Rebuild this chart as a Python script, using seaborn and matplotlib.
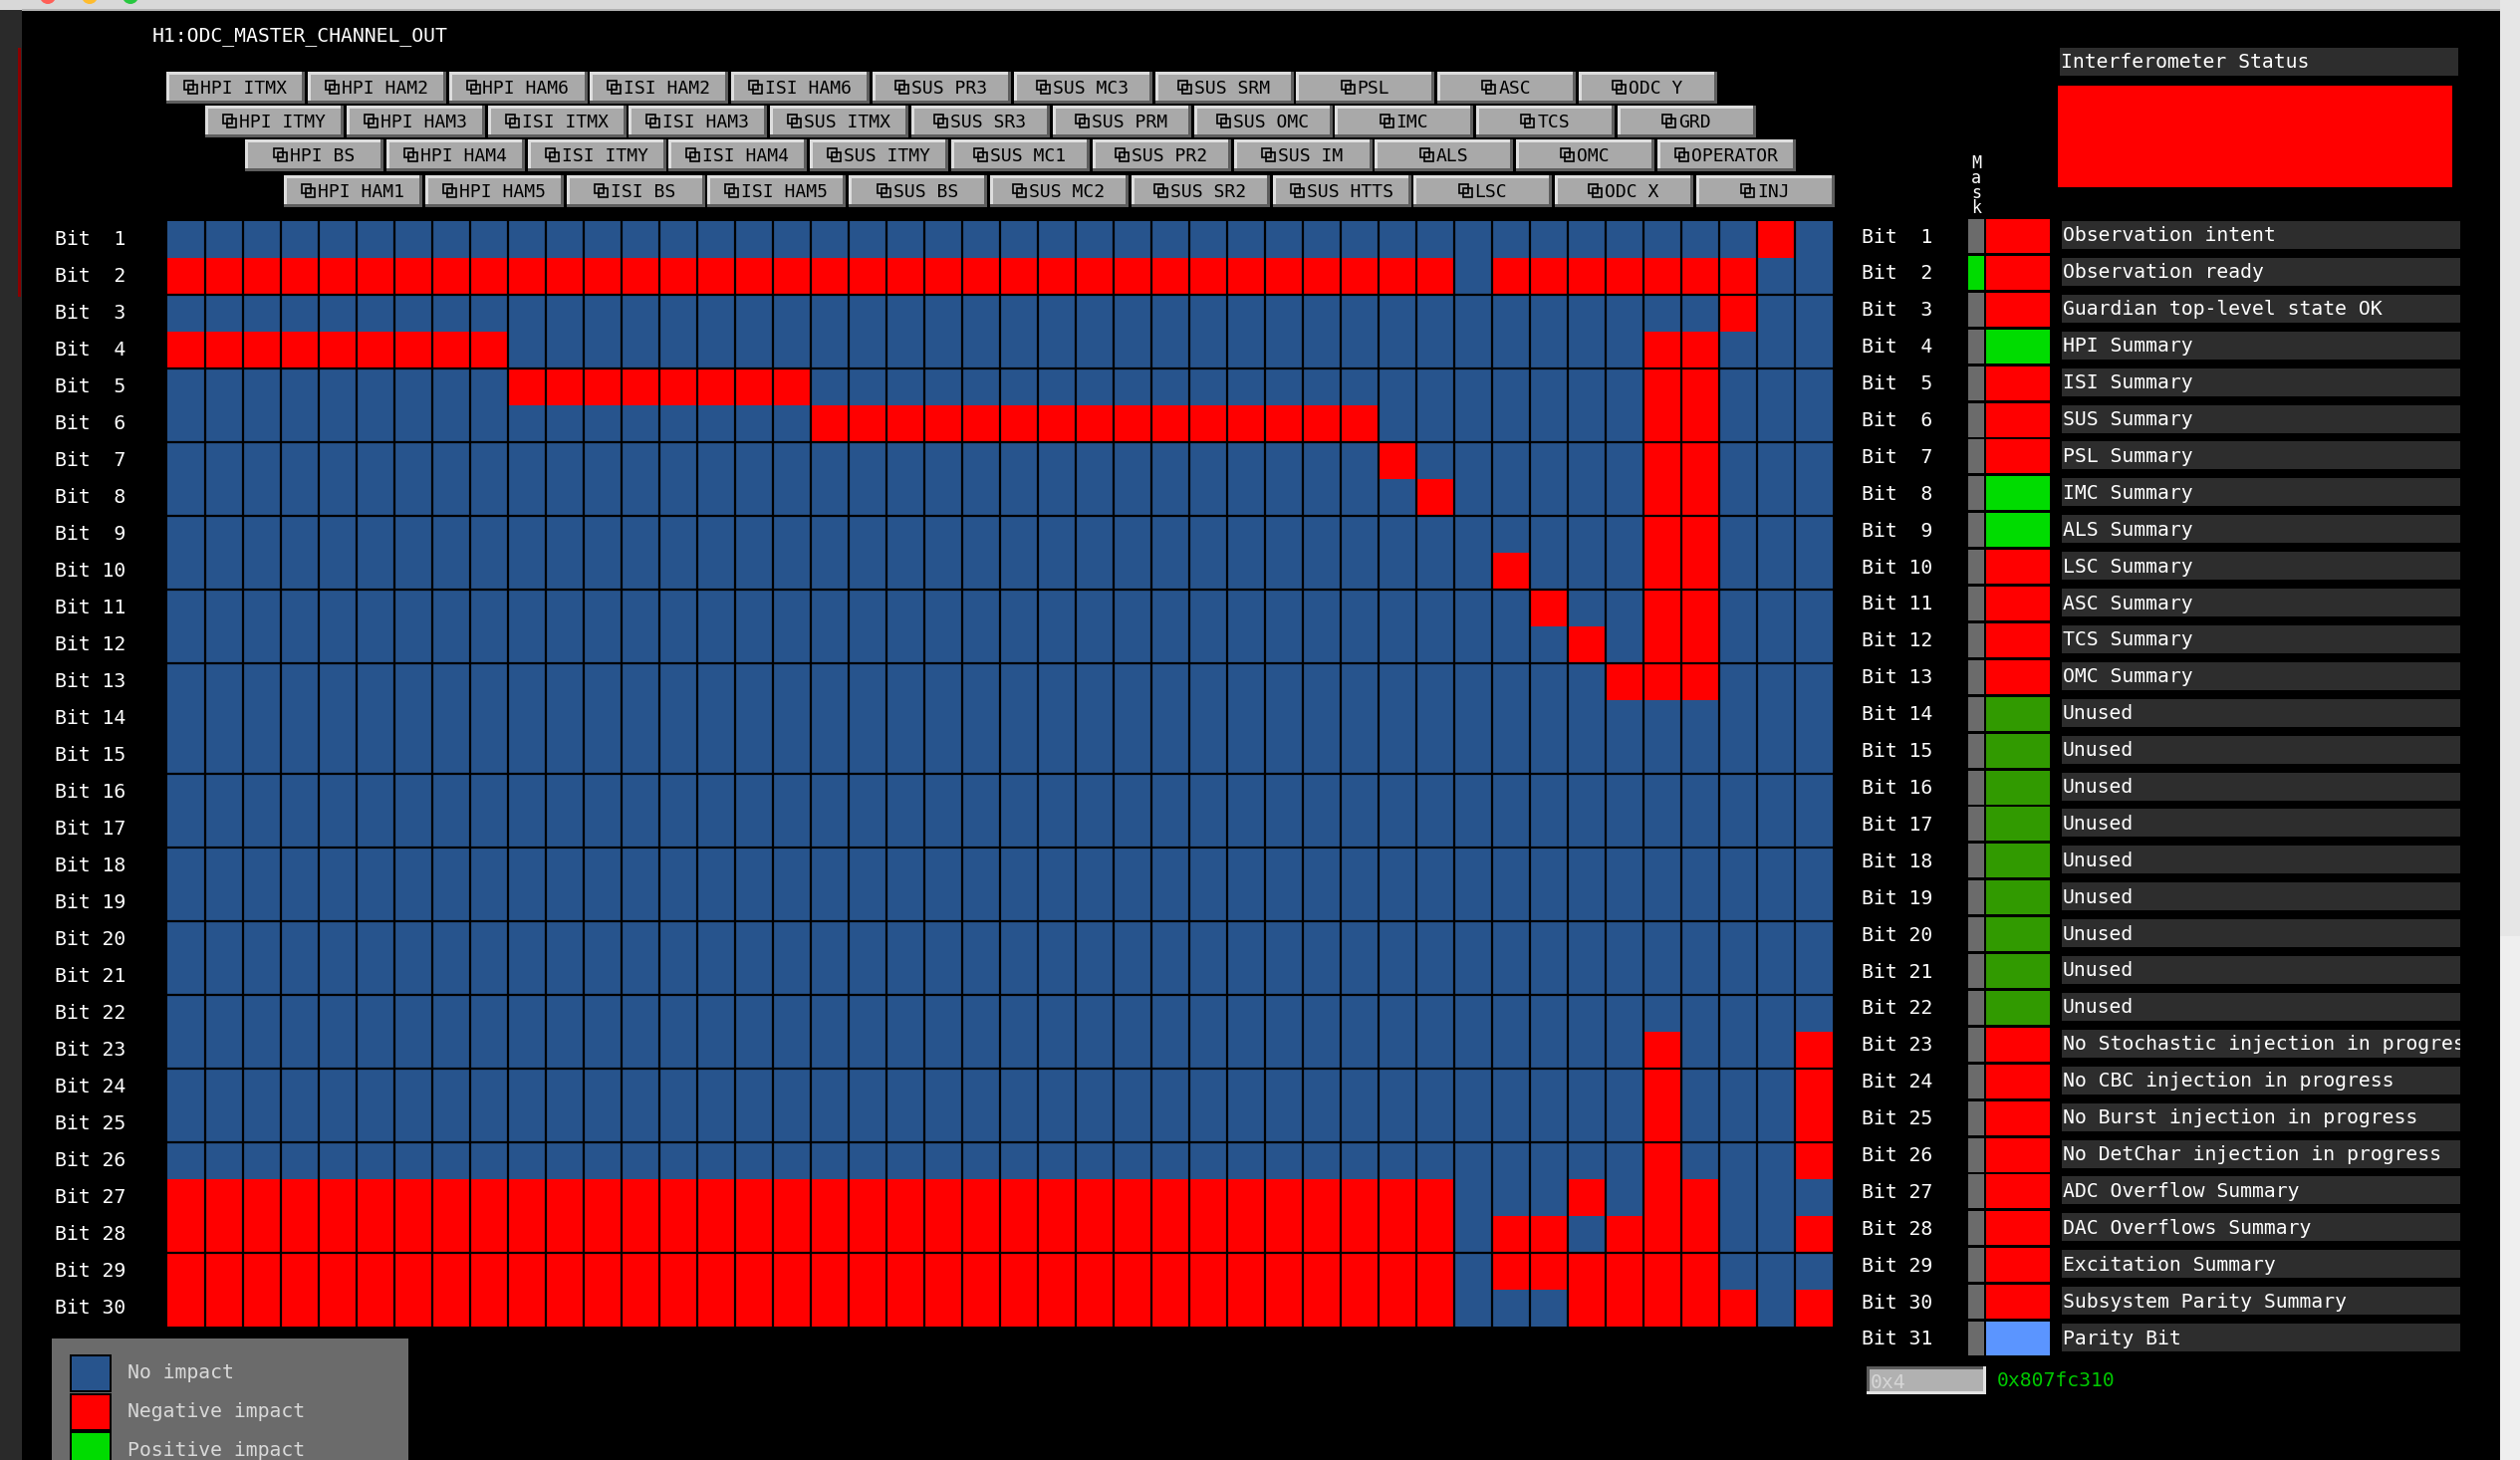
import matplotlib
matplotlib.use("Agg")
import numpy as np
import pandas as pd
import seaborn as sns
import matplotlib.pyplot as plt
from matplotlib.colors import ListedColormap
from matplotlib.patches import Rectangle, Circle
from matplotlib.transforms import Bbox

sns.set_theme(style="white")
plt.rcParams["font.family"] = ["DejaVu Sans Mono", "DejaVu Sans"]

# subsystems in grid column order (buttons are staggered over 4 rows)
subsystems = [
    "HPI ITMX", "HPI ITMY", "HPI BS", "HPI HAM1", "HPI HAM2", "HPI HAM3",
    "HPI HAM4", "HPI HAM5", "HPI HAM6",
    "ISI ITMX", "ISI ITMY", "ISI BS", "ISI HAM2", "ISI HAM3", "ISI HAM4",
    "ISI HAM5", "ISI HAM6",
    "SUS ITMX", "SUS ITMY", "SUS BS", "SUS PR3", "SUS SR3", "SUS MC1",
    "SUS MC2", "SUS MC3", "SUS PRM", "SUS PR2", "SUS SR2", "SUS SRM",
    "SUS OMC", "SUS IM", "SUS HTTS",
    "PSL", "IMC", "ALS", "LSC", "ASC", "TCS", "OMC", "ODC X", "ODC Y",
    "GRD", "OPERATOR", "INJ",
]

# 1 = negative impact, 0 = no impact; groups: HPI | ISI | SUS | others
impact_rows = [
    "000000000 00000000 000000000000000 000000000010",  # bit 1
    "111111111 11111111 111111111111111 110111111100",  # bit 2
    "000000000 00000000 000000000000000 000000000100",  # bit 3
    "111111111 00000000 000000000000000 000000011000",  # bit 4
    "000000000 11111111 000000000000000 000000011000",  # bit 5
    "000000000 00000000 111111111111111 000000011000",  # bit 6
    "000000000 00000000 000000000000000 100000011000",  # bit 7
    "000000000 00000000 000000000000000 010000011000",  # bit 8
    "000000000 00000000 000000000000000 000000011000",  # bit 9
    "000000000 00000000 000000000000000 000100011000",  # bit 10
    "000000000 00000000 000000000000000 000010011000",  # bit 11
    "000000000 00000000 000000000000000 000001011000",  # bit 12
    "000000000 00000000 000000000000000 000000111000",  # bit 13
    "000000000 00000000 000000000000000 000000000000",  # bit 14
    "000000000 00000000 000000000000000 000000000000",  # bit 15
    "000000000 00000000 000000000000000 000000000000",  # bit 16
    "000000000 00000000 000000000000000 000000000000",  # bit 17
    "000000000 00000000 000000000000000 000000000000",  # bit 18
    "000000000 00000000 000000000000000 000000000000",  # bit 19
    "000000000 00000000 000000000000000 000000000000",  # bit 20
    "000000000 00000000 000000000000000 000000000000",  # bit 21
    "000000000 00000000 000000000000000 000000000000",  # bit 22
    "000000000 00000000 000000000000000 000000010001",  # bit 23
    "000000000 00000000 000000000000000 000000010001",  # bit 24
    "000000000 00000000 000000000000000 000000010001",  # bit 25
    "000000000 00000000 000000000000000 000000010001",  # bit 26
    "111111111 11111111 111111111111111 110001011000",  # bit 27
    "111111111 11111111 111111111111111 110110111001",  # bit 28
    "111111111 11111111 111111111111111 110111111000",  # bit 29
    "111111111 11111111 111111111111111 110001111101",  # bit 30
]

bit_descriptions = [
    "Observation intent", "Observation ready", "Guardian top-level state OK",
    "HPI Summary", "ISI Summary", "SUS Summary", "PSL Summary", "IMC Summary",
    "ALS Summary", "LSC Summary", "ASC Summary", "TCS Summary", "OMC Summary",
    "Unused", "Unused", "Unused", "Unused", "Unused", "Unused", "Unused",
    "Unused", "Unused",
    "No Stochastic injection in progress", "No CBC injection in progress",
    "No Burst injection in progress", "No DetChar injection in progress",
    "ADC Overflow Summary", "DAC Overflows Summary", "Excitation Summary",
    "Subsystem Parity Summary", "Parity Bit",
]

bit_status = (["bad", "bad", "bad", "good", "bad", "bad", "bad", "good", "good",
               "bad", "bad", "bad", "bad"] + ["unused"] * 9 + ["bad"] * 8
              + ["parity"])
bit_mask = ["off", "on"] + ["off"] * 29

legend_labels = ["No impact", "Negative impact", "Positive impact"]
mask_value = "0x4"
channel_value = "0x807fc310"
channel_name = "H1:ODC_MASTER_CHANNEL_OUT"

# ---- style ----
BLUE = "#27548d"
RED = "#ff0000"
GREEN = "#00dc00"
DKGREEN = "#319a00"
PARITY = "#5b95ff"
status_colors = {"bad": RED, "good": GREEN, "unused": DKGREEN, "parity": PARITY}
mask_colors = {"off": "#6b6b6b", "on": GREEN}
FS = 14.25
W, H = 2530, 1466

impact = pd.DataFrame([[int(c) for c in r.replace(" ", "")] for r in impact_rows],
                      columns=subsystems,
                      index=[f"Bit {i:2d}" for i in range(1, len(impact_rows) + 1)])

fig = plt.figure(figsize=(W / 100, H / 100), dpi=100, facecolor="black")
bg = fig.add_axes([0, 0, 1, 1])
bg.set_xlim(0, W)
bg.set_ylim(H, 0)
bg.axis("off")
bg.set_facecolor("black")

# window chrome
bg.add_patch(Rectangle((0, 0), W, H, fc="black", ec="none"))
bg.add_patch(Rectangle((0, 0), 22, H, fc="#2a2a2a", ec="none"))
bg.add_patch(Rectangle((18, 48), 3, 250, fc="#8a0000", ec="none"))
bg.add_patch(Rectangle((2510, 0), 20, 940, fc="#e6e6e6", ec="none"))
bg.add_patch(Rectangle((2510, 940), 20, H - 940, fc="#efefef", ec="none"))
bg.add_patch(Rectangle((0, 0), 2510, 10, fc="#d8d8d8", ec="none"))
bg.add_patch(Rectangle((22, 9), 2488, 2, fc="#b0b0b0", ec="none"))
for cx, col in [(48, "#ff5f57"), (90, "#febc2e"), (131, "#28c840")]:
    bg.add_patch(Circle((cx, -4), 8, fc=col, ec="none", clip_on=True))

bg.text(153, 36, channel_name, color="white", fontsize=FS, va="center", ha="left")

# related-display buttons
btn_w, btn_h, pitch = 139, 32, 141.8
row_x0 = [167, 206, 246, 285]
row_y0 = [72, 106, 140, 176]
for r in range(4):
    for k in range(11):
        name = subsystems[4 * k + r]
        x0, y0 = row_x0[r] + k * pitch, row_y0[r]
        bg.add_patch(Rectangle((x0, y0), btn_w, btn_h, fc="#a9a9a9", ec="none"))
        bg.add_patch(Rectangle((x0, y0), btn_w, 3, fc="#dedede", ec="none"))
        bg.add_patch(Rectangle((x0, y0), 3, btn_h, fc="#dedede", ec="none"))
        bg.add_patch(Rectangle((x0, y0 + btn_h - 3), btn_w, 3, fc="#5e5e5e", ec="none"))
        bg.add_patch(Rectangle((x0 + btn_w - 3, y0), 3, btn_h, fc="#5e5e5e", ec="none"))
        tw = len(name) * 10.9
        start = x0 + btn_w / 2 - (tw + 16) / 2
        cy = y0 + btn_h / 2
        bg.add_patch(Rectangle((start, cy - 7), 9, 9, fill=False, ec="black", lw=1.2))
        bg.add_patch(Rectangle((start + 4, cy - 3), 9, 9, fill=False, ec="black", lw=1.2))
        bg.text(start + 16, cy + 1, name, color="black", fontsize=13,
                va="center", ha="left")

# impact matrix
gx0, gy0, gx1, gy1 = 168, 222, 1840, 1332
axg = fig.add_axes([gx0 / W, 1 - gy1 / H, (gx1 - gx0) / W, (gy1 - gy0) / H])
sns.heatmap(impact, ax=axg, cmap=ListedColormap([BLUE, RED]), vmin=0, vmax=1,
            cbar=False, linewidths=0, xticklabels=False, yticklabels=True)
ncol = impact.shape[1]
nrow = impact.shape[0]
axg.vlines(np.arange(1, ncol), 0, nrow, color="black", lw=1.6)
axg.hlines([2, 4, 6, 8, 10, 12, 15, 17, 19, 21, 23, 25, 28], 0, ncol,
           color="black", lw=1.6)
axg.set_xlabel("")
axg.set_ylabel("")
axg.tick_params(axis="y", length=0, pad=30, labelcolor="white", labelsize=FS,
                labelrotation=0)
for lbl in axg.get_yticklabels():
    lbl.set_fontfamily("DejaVu Sans Mono")
for s in axg.spines.values():
    s.set_visible(False)

# right panel
bg.add_patch(Rectangle((2068, 48), 400, 28, fc="#2d2d2d", ec="none"))
bg.text(2069, 62, "Interferometer Status", color="white", fontsize=FS,
        va="center", ha="left")
bg.add_patch(Rectangle((2066, 86), 396, 102, fc=RED, ec="none"))
for j, ch in enumerate("Mask"):
    bg.text(1984, 164 + j * 15, ch, color="white", fontsize=12,
            va="center", ha="center")

ry0, rpitch = 220, 36.9
for i, desc in enumerate(bit_descriptions):
    top = ry0 + i * rpitch
    bg.text(1869, top + 18, f"Bit {i + 1:2d}", color="white", fontsize=FS,
            va="center", ha="left")
    bg.add_patch(Rectangle((1976, top), 16, 34, fc=mask_colors[bit_mask[i]], ec="none"))
    bg.add_patch(Rectangle((1994, top), 64, 34, fc=status_colors[bit_status[i]], ec="none"))
    bg.add_patch(Rectangle((2070, top + 2), 400, 28, fc="#2d2d2d", ec="none"))
    t = bg.text(2071, top + 17, desc, color="white", fontsize=FS,
                va="center", ha="left", clip_on=True)
    t.set_clip_box(Bbox([[2070, H - (top + 40)], [2470, H - (top - 6)]]))

# mask entry + value
bg.add_patch(Rectangle((1874, 1372), 120, 28, fc="#e2e2e2", ec="none"))
bg.add_patch(Rectangle((1874, 1372), 117, 25, fc="#5c5c5c", ec="none"))
bg.add_patch(Rectangle((1877, 1375), 114, 22, fc="#b1b1b1", ec="none"))
bg.text(1878, 1388, mask_value, color="#d6d6d6", fontsize=FS, va="center", ha="left")
bg.text(2005, 1386, channel_value, color="#00c800", fontsize=FS, va="center", ha="left")

# legend
bg.add_patch(Rectangle((52, 1344), 358, H - 1344, fc="#6b6b6b", ec="none"))
for i, (lab, col) in enumerate(zip(legend_labels, [BLUE, RED, GREEN])):
    y = 1360 + i * 38.5
    bg.add_patch(Rectangle((70, y), 42, 38, fc="black", ec="none"))
    bg.add_patch(Rectangle((72, y + 2), 38, 34, fc=col, ec="none"))
    bg.text(128, y + 19, lab, color="#d9d9d9", fontsize=FS, va="center", ha="left")

fig.savefig("out.png", dpi=100, facecolor="black")
